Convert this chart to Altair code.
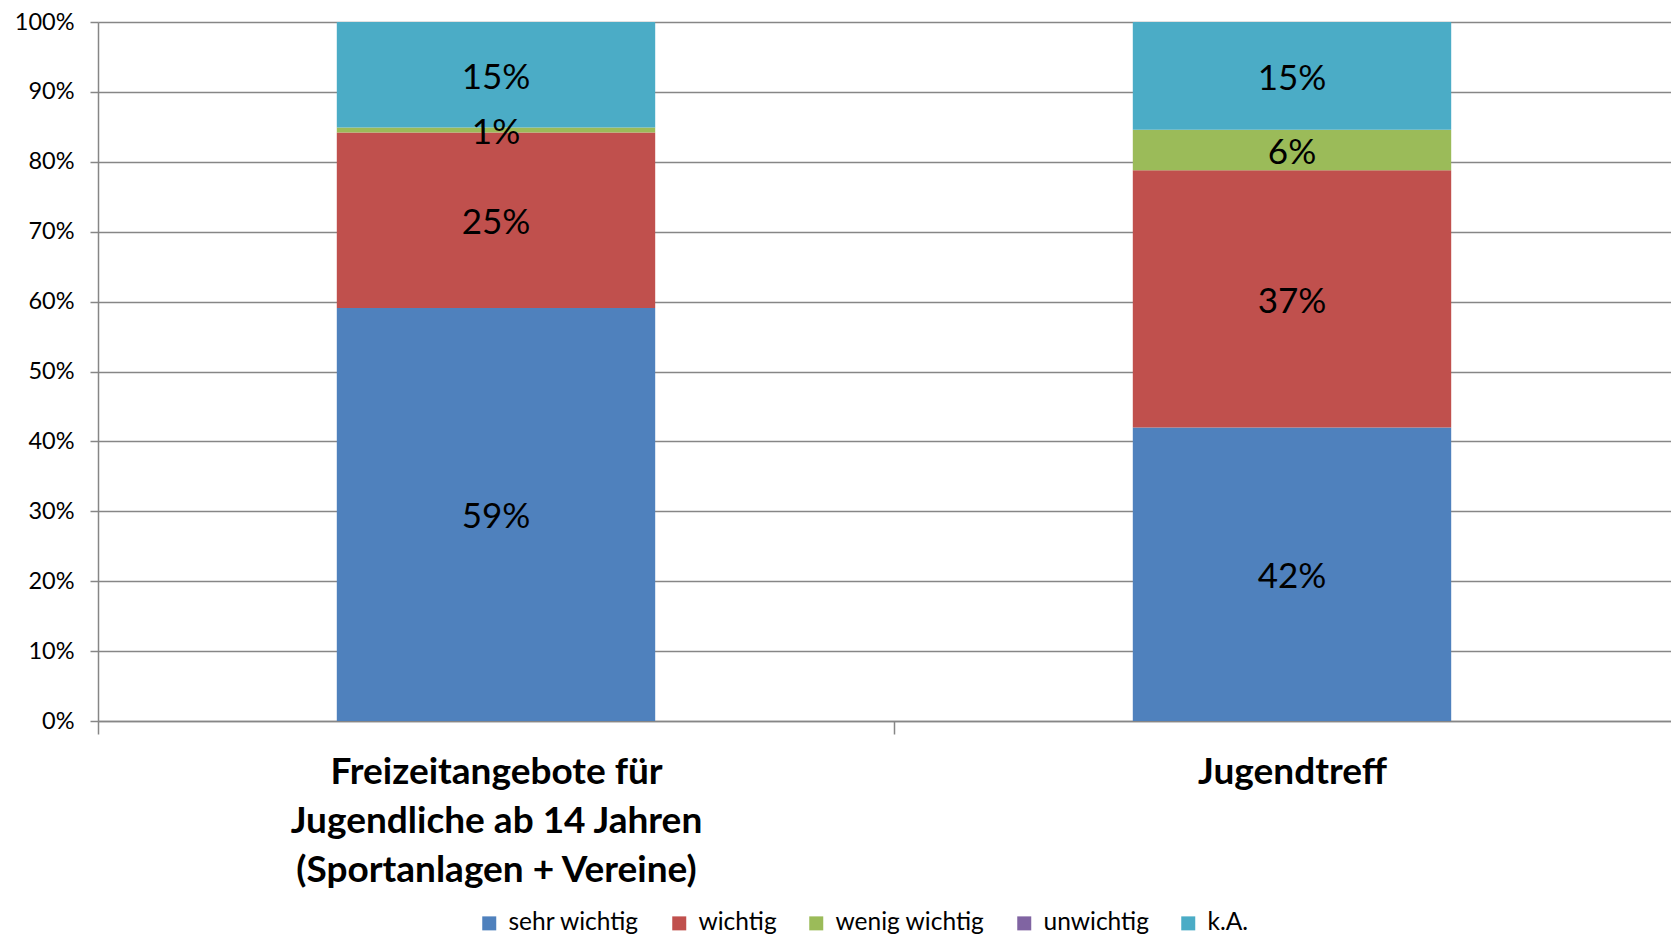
import altair as alt
import pandas as pd

categories = [
    "Freizeitangebote für|Jugendliche ab 14 Jahren|(Sportanlagen + Vereine)",
    "Jugendtreff",
]
series = ["sehr wichtig", "wichtig", "wenig wichtig", "unwichtig", "k.A."]
colors = ["#4F81BD", "#C0504D", "#9BBB59", "#8064A2", "#4BACC6"]
values_freizeit = [0.591, 0.251, 0.007, 0.0, 0.151]
values_jugendtreff = [0.420, 0.368, 0.058, 0.0, 0.154]
y_ticks = [0.0, 0.1, 0.2, 0.3, 0.4, 0.5, 0.6, 0.7, 0.8, 0.9, 1.0]

rows = []
for cat, vals in zip(categories, [values_freizeit, values_jugendtreff]):
    for i, (s, v) in enumerate(zip(series, vals)):
        rows.append({"cat": cat, "series": s, "order": i, "value": v})
df = pd.DataFrame(rows)

FONT = "Lato"
GRAY = "#868686"

x_axis = alt.Axis(
    title=None,
    labelAngle=0,
    labelFont=FONT,
    labelFontWeight="bold",
    labelFontSize=37,
    labelLineHeight=49,
    labelPadding=20,
    labelColor="black",
    labelLimit=800,
    labelExpr="split(datum.label, '|')",
    tickBand="extent",
    tickSize=13,
    tickColor=GRAY,
    tickWidth=1.5,
    domainColor=GRAY,
    domainWidth=1.5,
)
y_axis = alt.Axis(
    title=None,
    values=y_ticks,
    format=".0%",
    grid=True,
    gridColor=GRAY,
    gridWidth=1.4,
    domainColor=GRAY,
    domainWidth=1.5,
    tickColor=GRAY,
    tickWidth=1.5,
    tickSize=8,
    labelFont=FONT,
    labelFontSize=23.5,
    labelColor="black",
    labelPadding=16,
)

bars = alt.Chart(df).mark_bar(width=alt.RelativeBandSize(0.4)).encode(
    x=alt.X("cat:N", sort=categories,
            scale=alt.Scale(paddingInner=0, paddingOuter=0), axis=x_axis),
    y=alt.Y("value:Q", stack="zero",
            scale=alt.Scale(domain=[0, 1], nice=False), axis=y_axis),
    color=alt.Color(
        "series:N",
        scale=alt.Scale(domain=series, range=colors),
        legend=alt.Legend(
            title=None,
            orient="none",
            direction="horizontal",
            legendX=379,
            legendY=889,
            symbolType="square",
            symbolSize=196,
            symbolStrokeWidth=0,
            symbolOpacity=1,
            labelFont=FONT,
            labelFontSize=24.5,
            labelColor="black",
            columnPadding=27,
            labelOffset=7,
        ),
    ),
    order=alt.Order("order:Q"),
)

labels = (
    alt.Chart(df)
    .transform_filter("datum.value > 0")
    .transform_stack(
        stack="value",
        groupby=["cat"],
        as_=["v0", "v1"],
        sort=[alt.SortField("order", order="ascending")],
    )
    .transform_calculate(mid="(datum.v0 + datum.v1) / 2")
    .mark_text(font=FONT, fontSize=35, color="black", baseline="middle", dy=3)
    .encode(
        x=alt.X("cat:N", sort=categories, axis=x_axis),
        y=alt.Y("mid:Q", axis=y_axis),
        text=alt.Text("value:Q", format=".0%"),
    )
)

chart = (
    alt.layer(bars, labels)
    .properties(
        width=1592,
        height=699,
        autosize=alt.AutoSizeParams(type="none"),
        padding={"left": 90, "top": 14, "right": -19, "bottom": 218},
    )
    .configure_view(stroke=None)
)

chart.save("out.html", embed_options={"renderer": "svg", "actions": False})
